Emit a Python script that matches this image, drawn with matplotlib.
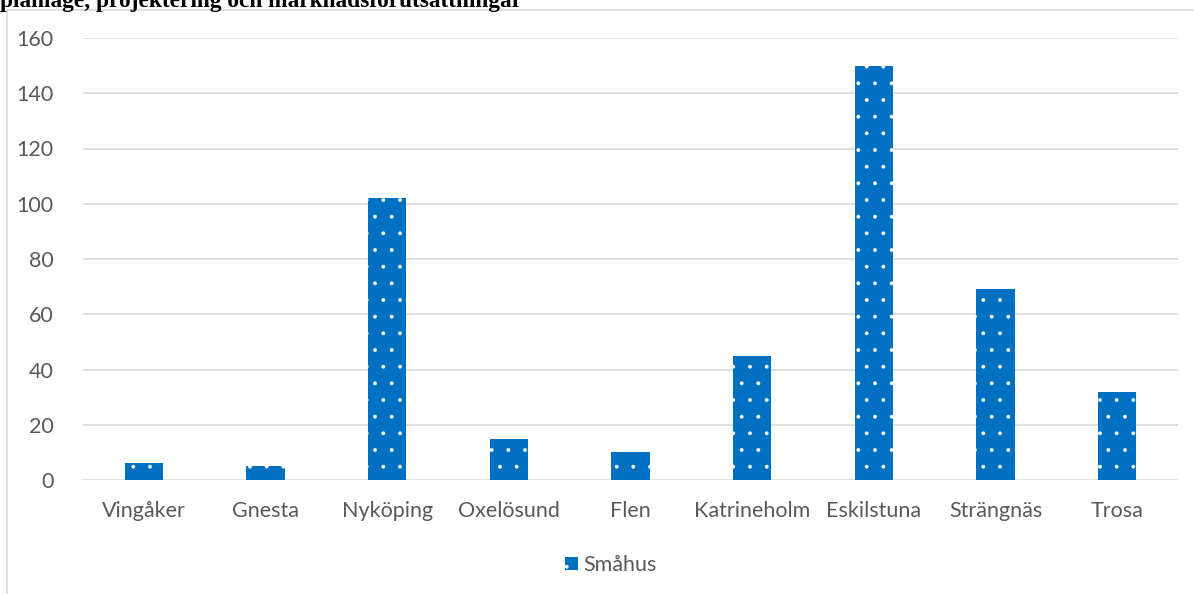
import matplotlib
matplotlib.use("Agg")
import matplotlib.pyplot as plt
from matplotlib.patches import Rectangle

categories = ["Vingåker", "Gnesta", "Nyköping", "Oxelösund", "Flen",
              "Katrineholm", "Eskilstuna", "Strängnäs", "Trosa"]
smahus = [6, 5, 102, 15, 10, 45, 150, 69, 32]
yticks = [0, 20, 40, 60, 80, 100, 120, 140, 160]
series_name = "Småhus"
title_text = "planläge, projektering och marknadsförutsättningar"

plt.rcParams['hatch.linewidth'] = 0.3
W, H = 1194, 594
fig = plt.figure(figsize=(W / 100, H / 100), dpi=100)
fig.patch.set_facecolor("white")

# chart frame (cropped)
fig.patches.append(Rectangle((7 / W, -0.1), 1.2, 1 - 10 / H + 0.1,
                             transform=fig.transFigure, fill=False,
                             edgecolor="#d9d9d9", linewidth=1.2))
fig.text(0.0, 1 - 7 / H, title_text, family="Liberation Serif",
         fontweight="bold", fontsize=16.8, va="baseline", ha="left", color="black")

ax = fig.add_axes([83 / W, 1 - 480 / H, (1178 - 83) / W, (480 - 38) / H])
x = range(len(categories))
ax.bar(x, smahus, width=0.315, color="#0070c0", edgecolor="white",
       linewidth=0, hatch=".", label=series_name, zorder=3)
ax.set_xlim(-0.5, len(categories) - 0.5)
ax.set_ylim(0, 160)
ax.set_yticks(yticks)
ax.set_xticks(list(x))
ax.set_xticklabels(categories)
for s in ax.spines.values():
    s.set_visible(False)
ax.grid(axis="y", color="#d9d9d9", linewidth=1.2, zorder=0)
ax.tick_params(length=0, labelsize=15.5, labelcolor="#595959", pad=21)
ax.tick_params(axis="x", pad=15)
for lab in ax.get_xticklabels() + ax.get_yticklabels():
    lab.set_family("Lato")

leg = ax.legend(loc="center", bbox_to_anchor=(611 / W, 1 - 565 / H),
                bbox_transform=fig.transFigure, frameon=False,
                prop={"family": "Lato", "size": 15.5}, handlelength=0.6,
                handleheight=0.6, handletextpad=0.25)
for t in leg.get_texts():
    t.set_color("#595959")

fig.savefig("out.png", dpi=100)
